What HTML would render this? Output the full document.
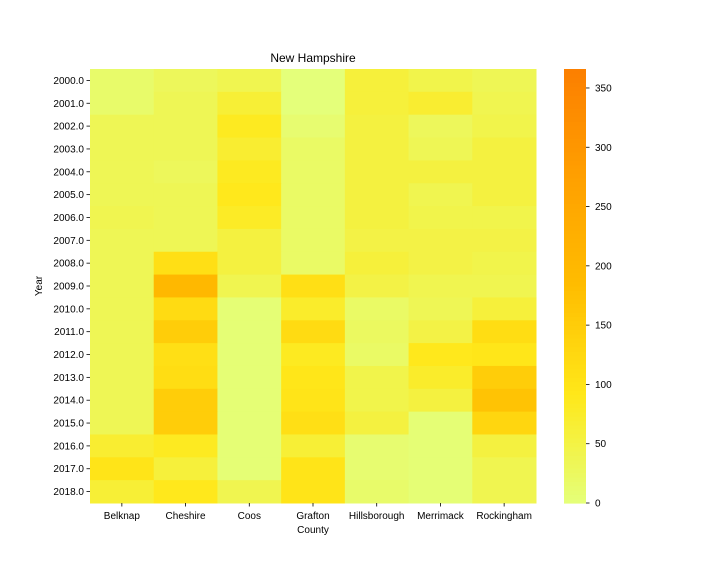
<!DOCTYPE html>
<html><head><meta charset="utf-8"><style>
body{margin:0;background:#fff;font-family:"Liberation Sans",sans-serif;}
svg text{font-family:"Liberation Sans",sans-serif;font-size:10px;fill:#000;}
</style></head><body>
<svg id="c" width="720" height="576"></svg>
<script>
const counties=["Belknap","Cheshire","Coos","Grafton","Hillsborough","Merrimack","Rockingham"];
const years=["2000.0","2001.0","2002.0","2003.0","2004.0","2005.0","2006.0","2007.0","2008.0","2009.0","2010.0","2011.0","2012.0","2013.0","2014.0","2015.0","2016.0","2017.0","2018.0"];
const values=[
[15,30,40,0,60,45,35],
[15,35,65,0,60,70,40],
[35,35,85,10,55,30,45],
[35,35,70,20,55,35,55],
[35,30,85,20,55,55,55],
[35,35,90,20,55,40,55],
[40,35,80,20,55,45,45],
[35,35,55,20,50,50,50],
[35,110,55,20,60,50,45],
[35,200,40,110,50,40,40],
[35,120,5,75,20,35,60],
[35,150,5,120,25,50,115],
[35,110,5,85,20,90,95],
[35,115,5,95,45,75,150],
[35,150,5,100,45,55,170],
[35,150,5,110,55,5,130],
[70,85,5,65,10,5,55],
[100,60,5,100,10,5,40],
[65,90,40,100,15,5,40]];
const cbTicks=[0,50,100,150,200,250,300,350];
const vmin=0,vmax=366;
const NS="http://www.w3.org/2000/svg";
const svg=document.getElementById('c');
const stops=[[0,[228,255,122]],[0.25,[255,232,26]],[0.5,[255,189,0]],[0.75,[255,160,0]],[1,[252,127,0]]];
function cmap(v){let t=Math.max(0,Math.min(1,(v-vmin)/(vmax-vmin)));
for(let i=0;i<stops.length-1;i++){const a=stops[i],b=stops[i+1];if(t<=b[0]){const f=(t-a[0])/(b[0]-a[0]);return 'rgb('+a[1].map((c,k)=>Math.round(c+(b[1][k]-c)*f)).join(',')+')';}}return 'rgb(252,127,0)';}
function mk(tag,at,txt){const e=document.createElementNS(NS,tag);for(const k in at)e.setAttribute(k,at[k]);if(txt!=null)e.textContent=txt;svg.appendChild(e);return e;}
const X0=90,X1=536,Y0=69,Y1=503;
const cw=(X1-X0)/counties.length,ch=(Y1-Y0)/years.length;
const xS=i=>X0+i*cw, yS=j=>Y0+j*ch;
values.forEach((row,j)=>row.forEach((v,i)=>{
const r=mk('rect',{x:xS(i),y:yS(j),width:cw+0.5,height:ch+0.5,fill:cmap(v)});


}));
counties.forEach((c,i)=>{const cx=xS(i)+cw/2;
mk('line',{x1:cx,x2:cx,y1:Y1,y2:Y1+3.5,stroke:'#000','stroke-width':0.8});
const t=mk('text',{x:cx,y:Y1+16,'text-anchor':'middle'},c);

});
years.forEach((y,j)=>{const cy=yS(j)+ch/2;
mk('line',{x1:X0-3.5,x2:X0,y1:cy,y2:cy,stroke:'#000','stroke-width':0.8});
const t=mk('text',{x:X0-6,y:cy+3.5,'text-anchor':'end'},y);

});
let t=mk('text',{x:(X0+X1)/2,y:62,'text-anchor':'middle',style:'font-size:12px'},'New Hampshire');

t=mk('text',{x:(X0+X1)/2,y:533,'text-anchor':'middle'},'County');

t=mk('text',{x:0,y:0,'text-anchor':'middle',transform:'translate(42,286) rotate(-90)'},'Year');

// colorbar
const CX=564,CW=22,n=100;
for(let k=0;k<n;k++){const v0=vmin+(vmax-vmin)*k/n;
const yy=Y1-(k+1)*(Y1-Y0)/n;
mk('rect',{x:CX,y:yy,width:CW,height:(Y1-Y0)/n+0.6,fill:cmap(v0+(vmax-vmin)/(2*n))});}
const cyS=v=>Y1-(v-vmin)/(vmax-vmin)*(Y1-Y0);
cbTicks.forEach(v=>{const yy=cyS(v);
mk('line',{x1:CX+CW,x2:CX+CW+3.5,y1:yy,y2:yy,stroke:'#000','stroke-width':0.8});
const tt=mk('text',{x:CX+CW+9,y:yy+3.5},String(v));

});
</script>
</body></html>
